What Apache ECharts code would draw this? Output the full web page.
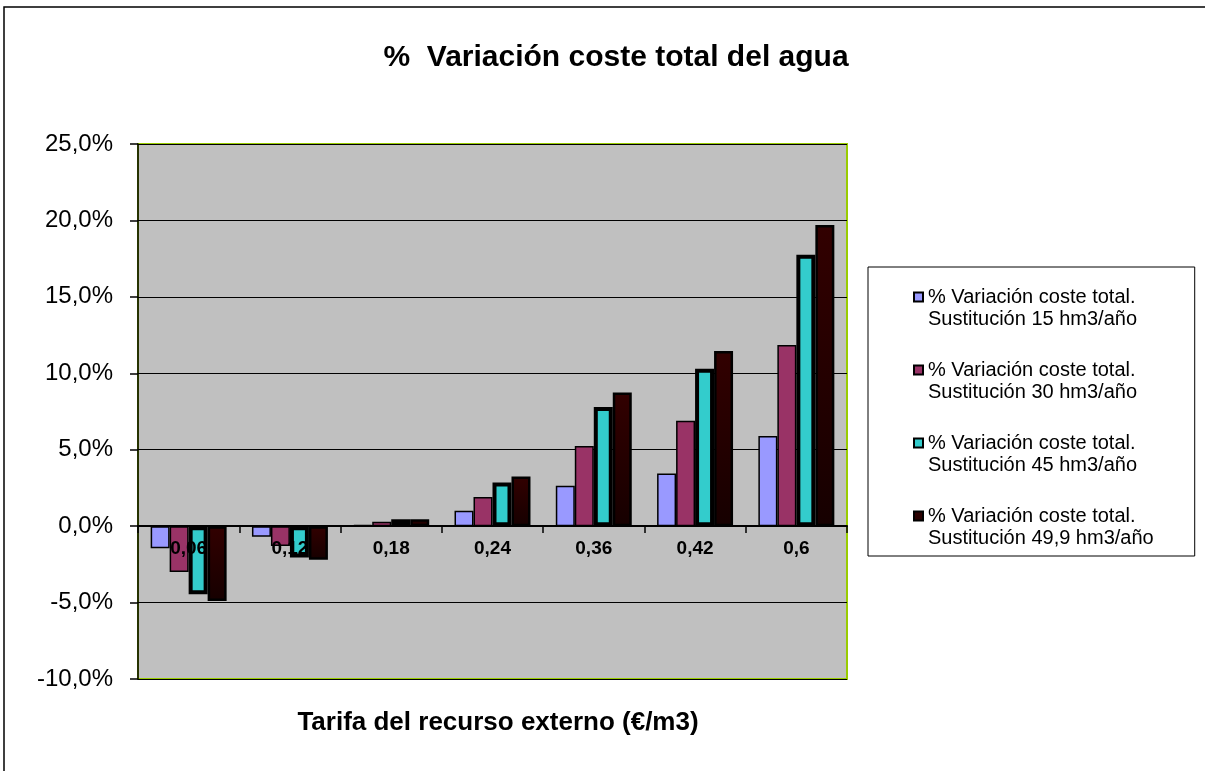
<!DOCTYPE html>
<html>
<head>
<meta charset="utf-8">
<script src="https://cdn.jsdelivr.net/npm/echarts@6/dist/echarts.min.js"></script>
<style>
  html, body { margin: 0; padding: 0; background: #fff; }
  #main { width: 1205px; height: 771px; }
</style>
</head>
<body>
<div id="main"></div>
<script>
var tarifas = ["0,06", "0,12", "0,18", "0,24", "0,36", "0,42", "0,6"];
var nombres = [
  "% Variación coste total.\nSustitución 15 hm3/año",
  "% Variación coste total.\nSustitución 30 hm3/año",
  "% Variación coste total.\nSustitución 45 hm3/año",
  "% Variación coste total.\nSustitución 49,9 hm3/año"
];
var sust15 = [-1.45, -0.7, 0.08, 1.0, 2.65, 3.45, 5.9];
var sust30 = [-3.0, -1.3, 0.28, 1.9, 5.25, 6.9, 11.85];
var sust45 = [-4.45, -2.05, 0.45, 2.85, 7.8, 10.3, 17.75];
var sust499 = [-4.9, -2.2, 0.45, 3.25, 8.75, 11.45, 19.7];

var font = "Arial, 'Liberation Sans', sans-serif";
var myChart = echarts.init(document.getElementById("main"));

function pct(v) {
  return v.toFixed(1).replace(".", ",") + "%";
}

// icono de leyenda: cuadrado a la altura de la primera linea del texto
var icono = "path://M0,6.5 L9,6.5 L9,15.5 L0,15.5 Z M0,0 M9,44";

var option = {
  animation: false,
  title: [
    {
      text: "%  Variación coste total del agua",
      left: 611,
      top: 38,
      textAlign: "center",
      textStyle: { fontFamily: font, fontSize: 30, fontWeight: "bold", color: "#000" }
    },
    {
      text: "Tarifa del recurso externo (€/m3)",
      left: 493,
      top: 705,
      textAlign: "center",
      textStyle: { fontFamily: font, fontSize: 26, fontWeight: "bold", color: "#000" }
    }
  ],
  graphic: [
    {
      type: "rect",
      shape: { x: 4, y: 7, width: 1210, height: 800 },
      style: { fill: "none", stroke: "#000", lineWidth: 1.5 }
    }
  ],
  legend: {
    orient: "vertical",
    left: 868,
    top: 267,
    padding: [18, 41, 6, 45],
    itemGap: 27,
    itemWidth: 9,
    itemHeight: 44,
    icon: icono,
    borderColor: "#000",
    borderWidth: 1,
    backgroundColor: "#fff",
    textStyle: { fontFamily: font, fontSize: 20, color: "#000", lineHeight: 22 },
    data: nombres
  },
  grid: {
    left: 138,
    right: 358,
    top: 144,
    bottom: 92,
    show: true,
    backgroundColor: "#C0C0C0",
    borderColor: "#99CC00",
    borderWidth: 2
  },
  xAxis: {
    type: "category",
    data: tarifas,
    z: 10,
    offset: -152.9,
    axisLine: { onZero: false, lineStyle: { color: "#000", width: 2 } },
    axisTick: { show: true, length: 7, lineStyle: { color: "#000", width: 1.5 } },
    axisLabel: { fontFamily: font, fontSize: 19, fontWeight: "bold", color: "#000", margin: 13 },
    splitLine: { show: false }
  },
  yAxis: {
    type: "value",
    min: -10,
    max: 25,
    interval: 5,
    axisLine: { show: true, lineStyle: { color: "#000", width: 1.5 } },
    axisTick: { show: true, length: 8, lineStyle: { color: "#000", width: 1.5 } },
    axisLabel: { fontFamily: font, fontSize: 24, color: "#000", margin: 25, formatter: pct },
    splitLine: { show: true, lineStyle: { color: "#000", width: 1.2 } }
  },
  series: [
    {
      name: nombres[0],
      type: "bar",
      data: sust15,
      barGap: "0%",
      barCategoryGap: "25%",
      itemStyle: { color: "#9999FF", borderColor: "#000", borderWidth: 1.5 }
    },
    {
      name: nombres[1],
      type: "bar",
      data: sust30,
      itemStyle: { color: "#993366", borderColor: "#000", borderWidth: 1.5 }
    },
    {
      name: nombres[2],
      type: "bar",
      data: sust45,
      itemStyle: { color: "#33CCCC", borderColor: "#000", borderWidth: 4 }
    },
    {
      name: nombres[3],
      type: "bar",
      data: sust499,
      itemStyle: {
        color: new echarts.graphic.LinearGradient(0, 0, 0, 1, [
          { offset: 0, color: "#320000" },
          { offset: 1, color: "#160000" }
        ]),
        borderColor: "#000",
        borderWidth: 2.5
      }
    }
  ]
};
myChart.setOption(option);
</script>
</body>
</html>
